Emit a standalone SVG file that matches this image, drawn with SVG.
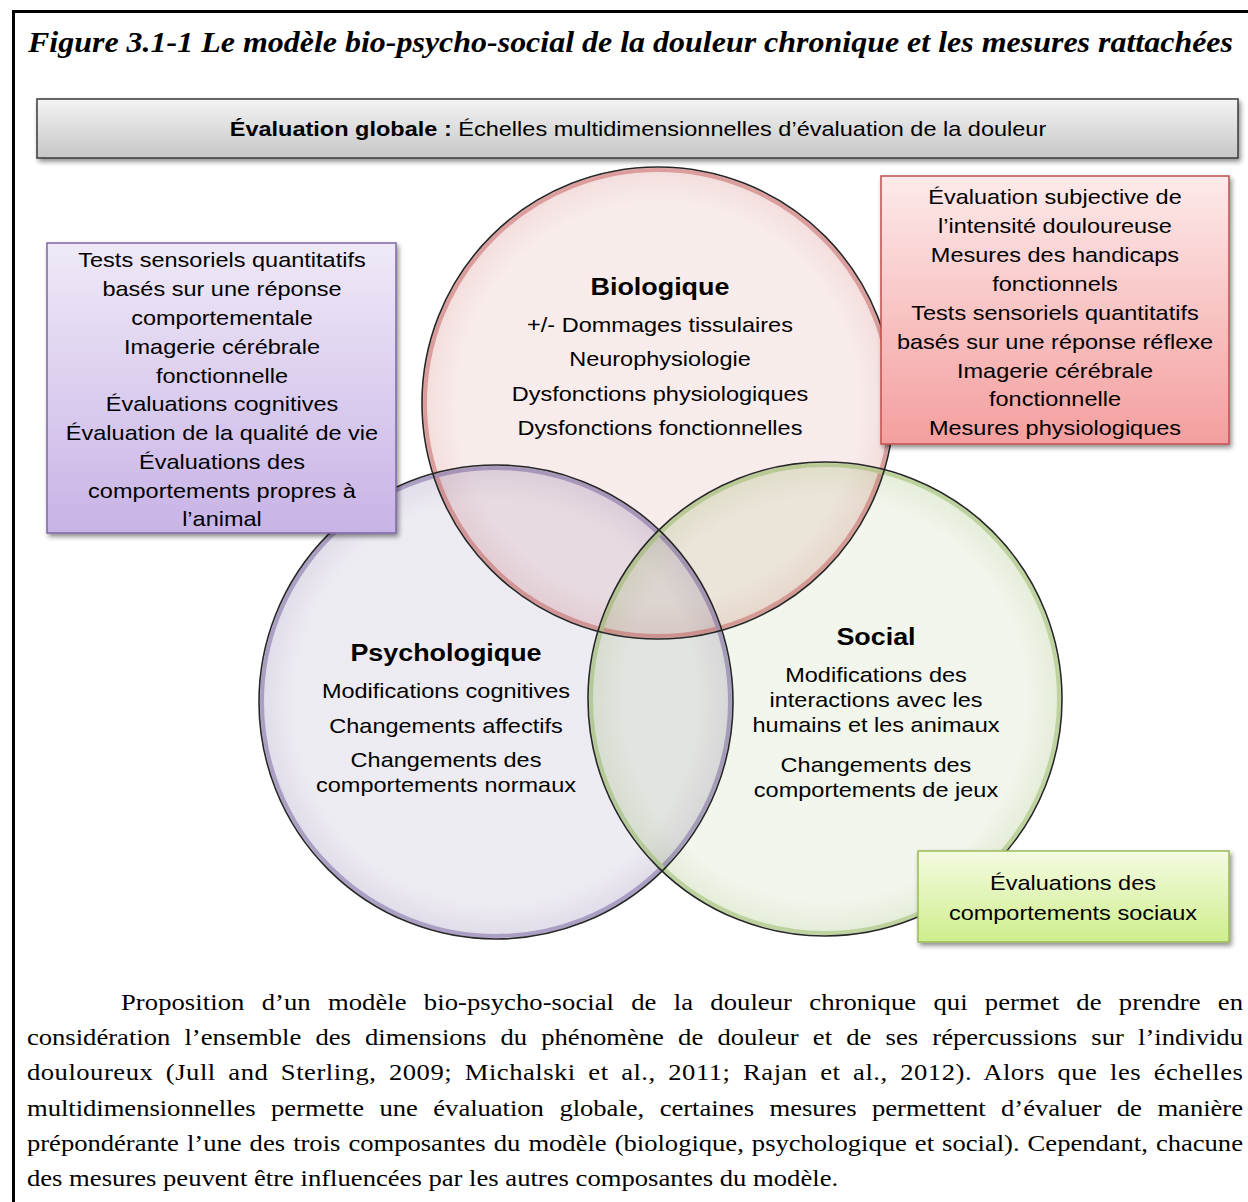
<svg xmlns="http://www.w3.org/2000/svg" width="1248" height="1202" viewBox="0 0 1248 1202">
<style>
.sans{font-family:"Liberation Sans",Arial,sans-serif;fill:#000}
.serif{font-family:"Liberation Serif","Times New Roman",serif;fill:#000}
.box{font-size:21px;text-anchor:middle}
.circ{font-size:21px;text-anchor:middle}
.head{font-size:24px;font-weight:bold;text-anchor:middle}
.para{font-size:24px}
.ring{fill:none;stroke:#262626;stroke-width:1.6}
</style>
<defs>
<filter id="sh" x="-10%" y="-10%" width="130%" height="130%">
<feGaussianBlur in="SourceAlpha" stdDeviation="2.5"/>
<feOffset dx="2" dy="3" result="b"/>
<feComponentTransfer><feFuncA type="linear" slope="0.45"/></feComponentTransfer>
<feMerge><feMergeNode/><feMergeNode in="SourceGraphic"/></feMerge>
</filter>
<linearGradient id="gGray" x1="0" y1="0" x2="0" y2="1">
<stop offset="0" stop-color="#f4f4f4"/><stop offset="1" stop-color="#c6c6c6"/>
</linearGradient>
<linearGradient id="gPurp" x1="0" y1="0" x2="0" y2="1">
<stop offset="0" stop-color="#efe9f7"/><stop offset="1" stop-color="#c8b3e6"/>
</linearGradient>
<linearGradient id="gRed" x1="0" y1="0" x2="0" y2="1">
<stop offset="0" stop-color="#fdeaea"/><stop offset="1" stop-color="#f49e9e"/>
</linearGradient>
<linearGradient id="gGreen" x1="0" y1="0" x2="0" y2="1">
<stop offset="0" stop-color="#f4fbe2"/><stop offset="1" stop-color="#cfee8c"/>
</linearGradient>
<radialGradient id="rRed" cx="0.5" cy="0.5" r="0.5">
<stop offset="0.85" stop-color="#c0504d" stop-opacity="0.11"/><stop offset="1" stop-color="#c0504d" stop-opacity="0.2"/>
</radialGradient>
<radialGradient id="rPurp" cx="0.5" cy="0.5" r="0.5">
<stop offset="0.85" stop-color="#5f4b8b" stop-opacity="0.11"/><stop offset="1" stop-color="#5f4b8b" stop-opacity="0.2"/>
</radialGradient>
<radialGradient id="rGreen" cx="0.5" cy="0.5" r="0.5">
<stop offset="0.85" stop-color="#77a03a" stop-opacity="0.1"/><stop offset="1" stop-color="#77a03a" stop-opacity="0.2"/>
</radialGradient>
</defs>
<rect width="1248" height="1202" fill="#fff"/>
<path d="M1248,11.5 H13.5 V1202" fill="none" stroke="#000" stroke-width="3"/>
<text class="serif" x="28" y="52" font-size="30" font-style="italic" font-weight="bold" textLength="1205" lengthAdjust="spacingAndGlyphs">Figure 3.1-1 Le modèle bio-psycho-social de la douleur chronique et les mesures rattachées</text>

<g id="global">
<rect x="37" y="99" width="1201" height="59" fill="url(#gGray)" stroke="#3a3a3a" stroke-width="1.5" filter="url(#sh)"/>
<text class="sans" x="638" y="136" font-size="21" text-anchor="middle" transform="matrix(1.12,0,0,1,-76.56,0)"><tspan font-weight="bold">Évaluation globale :</tspan> Échelles multidimensionnelles d’évaluation de la douleur</text>
</g>

<g id="circles-fill">
<circle cx="658" cy="403" r="236" fill="url(#rRed)"/>
<circle cx="496" cy="702" r="237" fill="url(#rPurp)"/>
<circle cx="825" cy="699" r="237" fill="url(#rGreen)"/>
</g>
<g id="circles-rim" fill="none" stroke-width="4" opacity="0.45">
<circle cx="658" cy="403" r="233" stroke="#c0504d"/>
<circle cx="496" cy="702" r="234" stroke="#6a5596"/>
<circle cx="825" cy="699" r="234" stroke="#8db356"/>
</g>
<g id="biologique">
<circle class="ring" cx="658" cy="403" r="236"/>
<g transform="matrix(1.12,0,0,1,-79.2,0)">
<text class="sans head" x="660" y="295">Biologique</text>
<text class="sans circ" x="660" y="332">+/- Dommages tissulaires</text>
<text class="sans circ" x="660" y="366">Neurophysiologie</text>
<text class="sans circ" x="660" y="401">Dysfonctions physiologiques</text>
<text class="sans circ" x="660" y="435">Dysfonctions fonctionnelles</text>
</g>
</g>
<g id="psychologique">
<circle class="ring" cx="496" cy="702" r="237"/>
<g transform="matrix(1.12,0,0,1,-53.52,0)">
<text class="sans head" x="446" y="661">Psychologique</text>
<text class="sans circ" x="446" y="698">Modifications cognitives</text>
<text class="sans circ" x="446" y="733">Changements affectifs</text>
<text class="sans circ" x="446" y="767">Changements des</text>
<text class="sans circ" x="446" y="792">comportements normaux</text>
</g>
</g>
<g id="social">
<circle class="ring" cx="825" cy="699" r="237"/>
<g transform="matrix(1.12,0,0,1,-105.12,0)">
<text class="sans head" x="876" y="645">Social</text>
<text class="sans circ" x="876" y="682">Modifications des</text>
<text class="sans circ" x="876" y="707">interactions avec les</text>
<text class="sans circ" x="876" y="732">humains et les animaux</text>
<text class="sans circ" x="876" y="772">Changements des</text>
<text class="sans circ" x="876" y="797">comportements de jeux</text>
</g>
</g>

<g id="box-psycho">
<rect x="47" y="243" width="349" height="290" fill="url(#gPurp)" stroke="#7d65a6" stroke-width="1.5" filter="url(#sh)"/>
<g transform="matrix(1.12,0,0,1,-26.64,0)">
<text class="sans box" x="222" y="267">Tests sensoriels quantitatifs</text>
<text class="sans box" x="222" y="296">basés sur une réponse</text>
<text class="sans box" x="222" y="325">comportementale</text>
<text class="sans box" x="222" y="354">Imagerie cérébrale</text>
<text class="sans box" x="222" y="383">fonctionnelle</text>
<text class="sans box" x="222" y="411">Évaluations cognitives</text>
<text class="sans box" x="222" y="440">Évaluation de la qualité de vie</text>
<text class="sans box" x="222" y="469">Évaluations des</text>
<text class="sans box" x="222" y="498">comportements propres à</text>
<text class="sans box" x="222" y="526">l’animal</text>
</g>
</g>

<g id="box-bio">
<rect x="881" y="176" width="348" height="268" fill="url(#gRed)" stroke="#c0504d" stroke-width="1.5" filter="url(#sh)"/>
<g transform="matrix(1.12,0,0,1,-126.6,0)">
<text class="sans box" x="1055" y="204">Évaluation subjective de</text>
<text class="sans box" x="1055" y="233">l’intensité douloureuse</text>
<text class="sans box" x="1055" y="262">Mesures des handicaps</text>
<text class="sans box" x="1055" y="291">fonctionnels</text>
<text class="sans box" x="1055" y="320">Tests sensoriels quantitatifs</text>
<text class="sans box" x="1055" y="349">basés sur une réponse réflexe</text>
<text class="sans box" x="1055" y="378">Imagerie cérébrale</text>
<text class="sans box" x="1055" y="406">fonctionnelle</text>
<text class="sans box" x="1055" y="435">Mesures physiologiques</text>
</g>
</g>

<g id="box-social">
<rect x="918" y="851" width="311" height="91" fill="url(#gGreen)" stroke="#9bbb59" stroke-width="1.5" filter="url(#sh)"/>
<g transform="matrix(1.12,0,0,1,-128.76,0)">
<text class="sans box" x="1073" y="890">Évaluations des</text>
<text class="sans box" x="1073" y="920">comportements sociaux</text>
</g>
</g>

<g id="connectors"></g>

<g id="caption" transform="matrix(1.11,0,0,1,0,0)">
<text class="serif para" x="109" y="1010" word-spacing="9.5" textLength="1010.8" lengthAdjust="spacing">Proposition d’un modèle bio-psycho-social de la douleur chronique qui permet de prendre en</text>
<text class="serif para" x="24.3" y="1045" word-spacing="6.8" textLength="1095.5" lengthAdjust="spacing">considération l’ensemble des dimensions du phénomène de douleur et de ses répercussions sur l’individu</text>
<text class="serif para" x="24.3" y="1080" word-spacing="4.9" textLength="1095.5" lengthAdjust="spacing">douloureux (Jull and Sterling, 2009; Michalski et al., 2011; Rajan et al., 2012). Alors que les échelles</text>
<text class="serif para" x="24.3" y="1116" word-spacing="8" textLength="1095.5" lengthAdjust="spacing">multidimensionnelles permette une évaluation globale, certaines mesures permettent d’évaluer de manière</text>
<text class="serif para" x="24.3" y="1151" word-spacing="1.3" textLength="1095.5" lengthAdjust="spacing">prépondérante l’une des trois composantes du modèle (biologique, psychologique et social). Cependant, chacune</text>
<text class="serif para" x="24.3" y="1186">des mesures peuvent être influencées par les autres composantes du modèle.</text>
</g>
</svg>
